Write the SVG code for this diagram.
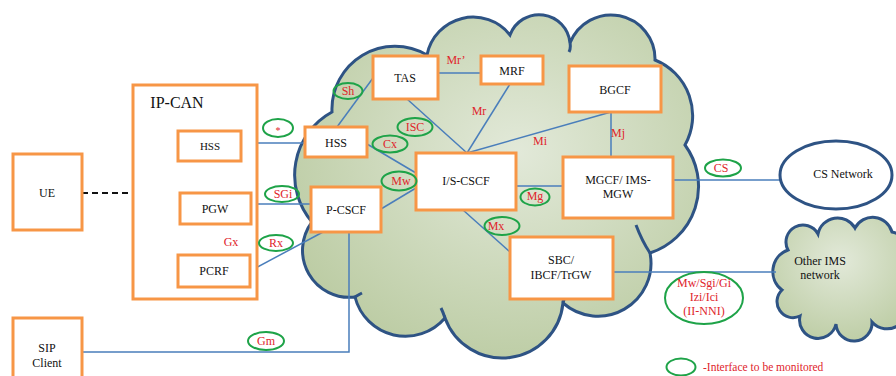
<svg xmlns="http://www.w3.org/2000/svg" width="896" height="376" viewBox="0 0 896 376">
<defs>
<radialGradient id="cg" cx="0.55" cy="0.4" r="0.7">
<stop offset="0" stop-color="#e2e9d9"/>
<stop offset="1" stop-color="#b8c99e"/>
</radialGradient>
<radialGradient id="cg2" cx="0.5" cy="0.35" r="0.7">
<stop offset="0" stop-color="#e2e9d9"/>
<stop offset="1" stop-color="#bccca3"/>
</radialGradient>
</defs>
<style>
.cloud{stroke:#2e5384;stroke-width:3;}
.hook{fill:none;stroke:#2e5384;stroke-width:3;}
.box{fill:#fff;stroke:#f79646;stroke-width:3;}
.ln{stroke:#4a7ebb;stroke-width:1.5;fill:none;}
.el{fill:none;stroke:#1ea348;stroke-width:2;}
.t{font-family:"Liberation Serif","DejaVu Serif",serif;font-size:12px;fill:#111;text-anchor:middle;}
.r{font-family:"Liberation Serif","DejaVu Serif",serif;font-size:12px;fill:#e0242b;text-anchor:middle;}
</style>
<rect width="896" height="376" fill="#fff"/>
<g id="ims-cloud">
<path class="cloud" fill="url(#cg)" d="M 312 222 A 72 72 0 0 1 332 112 A 63 63 0 0 1 427 55 A 47 47 0 0 1 510 35 A 31 31 0 0 1 570 43 A 44 44 0 0 1 655 60 A 60 60 0 0 1 685 145 A 70 70 0 0 1 650 253 A 53 53 0 0 1 563 303 A 61 61 0 0 1 445 318 A 52 52 0 0 1 355 297 A 47 47 0 0 1 312 222 Z"/>
<path class="hook" d="M 427 55 q 2 5 1 10 M 570 43 q 1 5 -1 9 M 650 253 q -8 -12 -14 -28 M 563 303 q 2 -6 1 -10 M 445 318 q -2 -6 -4 -10 M 355 297 q 3 -2 7 -4"/>
</g>
<g id="other-ims">
<path class="cloud" fill="url(#cg2)" d="M 788 250 A 17 17 0 0 1 818 234 A 20 20 0 0 1 855 228 A 20 20 0 0 1 892 232 A 20 20 0 0 1 905 262 L 905 300 A 20 20 0 0 1 872 322 A 18 18 0 0 1 836 324 A 18 18 0 0 1 800 316 A 16 16 0 0 1 782 290 A 23 23 0 0 1 788 250 Z"/>
<text class="t" x="820" y="265">Other IMS</text>
<text class="t" x="820" y="279">network</text>
</g>
<g id="connectors">
<line x1="82" y1="193" x2="133" y2="193" stroke="#111" stroke-width="2" stroke-dasharray="6 4"/>
<line class="ln" x1="241" y1="143" x2="305" y2="143"/>
<line class="ln" x1="251" y1="204" x2="311" y2="204"/>
<line class="ln" x1="213" y1="224" x2="213" y2="255"/>
<line class="ln" x1="250" y1="271" x2="323" y2="232"/>
<line class="ln" x1="337" y1="127" x2="373" y2="78"/>
<line class="ln" x1="438" y1="73" x2="481" y2="73"/>
<line class="ln" x1="407" y1="99" x2="467" y2="153"/>
<line class="ln" x1="510" y1="84" x2="467" y2="153"/>
<line class="ln" x1="467" y1="153" x2="611" y2="112"/>
<line class="ln" x1="611" y1="112" x2="611" y2="157"/>
<line class="ln" x1="367" y1="144" x2="416" y2="173"/>
<line class="ln" x1="381" y1="209" x2="416" y2="188"/>
<line class="ln" x1="516" y1="186" x2="563" y2="186"/>
<line class="ln" x1="463" y1="210" x2="510" y2="252"/>
<line class="ln" x1="673" y1="180" x2="780" y2="180"/>
<line class="ln" x1="613" y1="272" x2="776" y2="272"/>
<polyline class="ln" points="349,232 349,352 82,352"/>
</g>
<g id="ue"><rect class="box" x="13" y="154" width="69" height="76"/><text class="t" x="47" y="197">UE</text></g>
<g id="ip-can"><rect class="box" x="133" y="85" width="124" height="214" fill="none"/><text class="t" x="177" y="108" style="font-size:16px">IP-CAN</text></g>
<g id="hss-ipcan"><rect class="box" x="178" y="131" width="63" height="30"/><text class="t" x="210" y="150" style="font-size:11px">HSS</text></g>
<g id="pgw"><rect class="box" x="180" y="193" width="71" height="31"/><text class="t" x="215" y="213">PGW</text></g>
<g id="pcrf"><rect class="box" x="178" y="255" width="72" height="32"/><text class="t" x="214" y="275">PCRF</text></g>
<g id="hss-ims"><rect class="box" x="305" y="127" width="62" height="30"/><text class="t" x="336" y="147">HSS</text></g>
<g id="p-cscf"><rect class="box" x="311" y="187" width="70" height="45"/><text class="t" x="346" y="214">P-CSCF</text></g>
<g id="tas"><rect class="box" x="373" y="56" width="65" height="43"/><text class="t" x="405" y="82">TAS</text></g>
<g id="mrf"><rect class="box" x="481" y="56" width="62" height="28"/><text class="t" x="512" y="75">MRF</text></g>
<g id="is-cscf"><rect class="box" x="416" y="153" width="100" height="57"/><text class="t" x="466" y="185">I/S-CSCF</text></g>
<g id="bgcf"><rect class="box" x="569" y="66" width="92" height="46"/><text class="t" x="615" y="94">BGCF</text></g>
<g id="mgcf"><rect class="box" x="563" y="157" width="110" height="61"/><text class="t" x="618" y="184">MGCF/ IMS-</text><text class="t" x="618" y="198">MGW</text></g>
<g id="sbc"><rect class="box" x="510" y="237" width="103" height="62"/><text class="t" x="561" y="264">SBC/</text><text class="t" x="561" y="279">IBCF/TrGW</text></g>
<g id="sip-client"><rect class="box" x="13" y="318" width="69" height="70"/><text class="t" x="47" y="352">SIP</text><text class="t" x="47" y="367">Client</text></g>
<g id="cs-network"><ellipse cx="836" cy="175" rx="56" ry="34" fill="#fff" stroke="#2e5384" stroke-width="3"/><text class="t" x="843" y="178">CS Network</text></g>
<g id="labels">
<ellipse class="el" cx="278" cy="128" rx="15" ry="9"/><text class="r" x="278" y="134" style="font-size:10px">*</text>
<ellipse class="el" cx="282" cy="194" rx="17" ry="8"/><text class="r" x="283" y="198">SGi</text>
<ellipse class="el" cx="276" cy="243" rx="17" ry="8"/><text class="r" x="276" y="247">Rx</text>
<text class="r" x="231" y="246">Gx</text>
<ellipse class="el" cx="348" cy="91" rx="14.5" ry="8"/><text class="r" x="348" y="95">Sh</text>
<ellipse class="el" cx="415" cy="127" rx="17.5" ry="9"/><text class="r" x="415" y="131">ISC</text>
<ellipse class="el" cx="390" cy="144" rx="17.5" ry="8.5"/><text class="r" x="390" y="148">Cx</text>
<ellipse class="el" cx="399" cy="181" rx="17.5" ry="9.5"/><text class="r" x="401" y="185">Mw</text>
<ellipse class="el" cx="535" cy="197" rx="14.5" ry="8.5"/><text class="r" x="535" y="200">Mg</text>
<ellipse class="el" cx="502" cy="226" rx="17.5" ry="9"/><text class="r" x="496" y="230">Mx</text>
<ellipse class="el" cx="723" cy="168" rx="18" ry="8.5"/><text class="r" x="721" y="172">CS</text>
<ellipse class="el" cx="266" cy="341" rx="18" ry="9"/><text class="r" x="266" y="345">Gm</text>
<text class="r" x="456" y="64">Mr’</text>
<text class="r" x="479" y="115">Mr</text>
<text class="r" x="540" y="145">Mi</text>
<text class="r" x="618" y="137">Mj</text>
<ellipse class="el" cx="704" cy="298" rx="39" ry="26"/>
<text class="r" x="704" y="287">Mw/Sgi/Gi</text>
<text class="r" x="704" y="301">Izi/Ici</text>
<text class="r" x="704" y="315">(II-NNI)</text>
<ellipse class="el" cx="681" cy="367" rx="14.5" ry="8.5" fill="#fff"/>
<text class="r" x="703" y="371" style="text-anchor:start;font-size:11.5px">-Interface to be monitored</text>
</g>
</svg>
